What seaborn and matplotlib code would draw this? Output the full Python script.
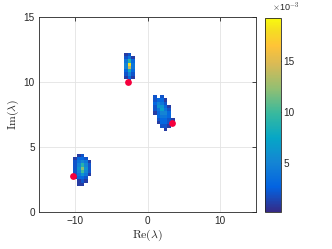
import numpy as np
import pandas as pd
import matplotlib
matplotlib.use("Agg")
import matplotlib.pyplot as plt
from matplotlib.colors import LinearSegmentedColormap
from matplotlib.ticker import FuncFormatter
import seaborn as sns

# eigenvalue density clouds: cell centres on Re, rows on Im (top to bottom), values
c1_re = [-3.0, -2.5, -2.0]
c1_im = [12.125, 11.875, 11.625, 11.375, 11.125, 10.875, 10.625, 10.375, 10.125, 9.875]
c1_val = [
    [0.001, 0.002, 0.0],
    [0.002, 0.004, 0.001],
    [0.004, 0.009, 0.003],
    [0.005, 0.018, 0.004],
    [0.005, 0.014, 0.004],
    [0.003, 0.008, 0.003],
    [0.002, 0.005, 0.002],
    [0.001, 0.003, 0.001],
    [0.0, 0.002, 0.0],
    [0.0, 0.001, 0.0],
]

c2_re = [1.0, 1.5, 2.0, 2.5, 3.0, 3.5]
c2_im = [8.875, 8.625, 8.375, 8.125, 7.875, 7.625, 7.375, 7.125, 6.875, 6.625, 6.375]
c2_val = [
    [0.002, 0.0, 0.002, 0.0, 0.0, 0.0],
    [0.002, 0.003, 0.003, 0.001, 0.0, 0.0],
    [0.003, 0.005, 0.004, 0.002, 0.0, 0.0],
    [0.002, 0.006, 0.006, 0.003, 0.001, 0.0],
    [0.002, 0.004, 0.007, 0.004, 0.002, 0.0],
    [0.001, 0.003, 0.005, 0.005, 0.003, 0.0],
    [0.0, 0.003, 0.004, 0.004, 0.003, 0.0],
    [0.0, 0.002, 0.003, 0.003, 0.002, 0.001],
    [0.0, 0.001, 0.003, 0.003, 0.002, 0.0],
    [0.0, 0.0, 0.002, 0.002, 0.001, 0.0],
    [0.0, 0.0, 0.0, 0.001, 0.0, 0.0],
]

c3_re = [-10.0, -9.5, -9.0, -8.5, -8.0]
c3_im = [4.375, 4.125, 3.875, 3.625, 3.375, 3.125, 2.875, 2.625, 2.375, 2.125]
c3_val = [
    [0.0, 0.001, 0.002, 0.0, 0.0],
    [0.001, 0.003, 0.003, 0.002, 0.0],
    [0.002, 0.004, 0.005, 0.004, 0.001],
    [0.002, 0.005, 0.009, 0.005, 0.002],
    [0.002, 0.006, 0.012, 0.006, 0.002],
    [0.002, 0.005, 0.010, 0.005, 0.002],
    [0.002, 0.004, 0.006, 0.004, 0.001],
    [0.001, 0.003, 0.003, 0.002, 0.0],
    [0.0, 0.001, 0.002, 0.001, 0.0],
    [0.0, 0.001, 0.001, 0.0, 0.0],
]

# red markers (true eigenvalues)
dots_re = [-2.7, 3.4, -10.3]
dots_im = [10.0, 6.85, 2.8]

rows = []
for re_list, im_list, mat in [(c1_re, c1_im, c1_val), (c2_re, c2_im, c2_val), (c3_re, c3_im, c3_val)]:
    for i, im in enumerate(im_list):
        for j, re in enumerate(re_list):
            if mat[i][j] > 0:
                rows.append((re, im, mat[i][j]))
df = pd.DataFrame(rows, columns=["re", "im", "p"])
dots = pd.DataFrame({"re": dots_re, "im": dots_im})

# parula-like colormap
parula = LinearSegmentedColormap.from_list("parula", [
    (0 / 63, (0.2081, 0.1663, 0.5292)), (8 / 63, (0.0117, 0.3875, 0.8820)),
    (16 / 63, (0.0793, 0.5200, 0.8312)), (24 / 63, (0.0228, 0.6535, 0.7768)),
    (32 / 63, (0.2178, 0.7250, 0.6193)), (40 / 63, (0.5709, 0.7485, 0.4494)),
    (48 / 63, (0.8507, 0.7299, 0.3360)), (54 / 63, (0.9990, 0.7653, 0.2164)),
    (59 / 63, (0.9626, 0.8705, 0.1309)), (63 / 63, (0.9763, 0.9831, 0.0538))])

sns.set_style("white")
plt.rcParams["font.family"] = ["Liberation Sans", "DejaVu Sans"]
plt.rcParams["mathtext.fontset"] = "cm"

fig = plt.figure(figsize=(3.32, 2.49), dpi=100)
ax = fig.add_axes([0.1175, 0.1486, 0.6536, 0.7831])
cax = fig.add_axes([0.798, 0.1486, 0.048, 0.78])

sns.histplot(data=df, x="re", y="im", weights="p", binwidth=(0.5, 0.25),
             binrange=((-15.25, 15.25), (0, 15)), cmap=parula,
             vmin=2e-4, vmax=1.92e-2, cbar=True, cbar_ax=cax, ax=ax, zorder=2)
sns.scatterplot(data=dots, x="re", y="im", color="#f5003d", s=24, linewidth=0,
                ax=ax, zorder=3)

ax.set_xlim(-15, 15)
ax.set_ylim(0, 15)
ax.set_xticks([-10, 0, 10])
ax.set_yticks([0, 5, 10, 15])
ax.grid(True, color="#e3e3e3", linewidth=0.6)
ax.set_axisbelow(True)
for sp in ax.spines.values():
    sp.set_color("#262626")
    sp.set_linewidth(0.6)
ax.tick_params(direction="in", length=3, width=0.6, top=True, right=True,
               labelsize=7.2, colors="#262626", pad=3)
ax.set_xlabel(r"$\mathrm{Re}(\lambda)$", fontsize=8.5, labelpad=1)
ax.set_ylabel(r"$\mathrm{Im}(\lambda)$", fontsize=8.5, labelpad=2)

cax.set_yticks([0.005, 0.010, 0.015])
cax.yaxis.set_major_formatter(FuncFormatter(lambda v, _: f"{v * 1000:g}"))
cax.tick_params(direction="in", length=2.5, width=0.6, labelsize=7.2,
                colors="#262626", pad=2)
for sp in cax.spines.values():
    sp.set_color("#262626")
    sp.set_linewidth(0.6)
fig.text(0.82, 0.955, r"$\times$10$^{-3}$", fontsize=6.5, color="#262626")

fig.savefig("out.png", dpi=100)
